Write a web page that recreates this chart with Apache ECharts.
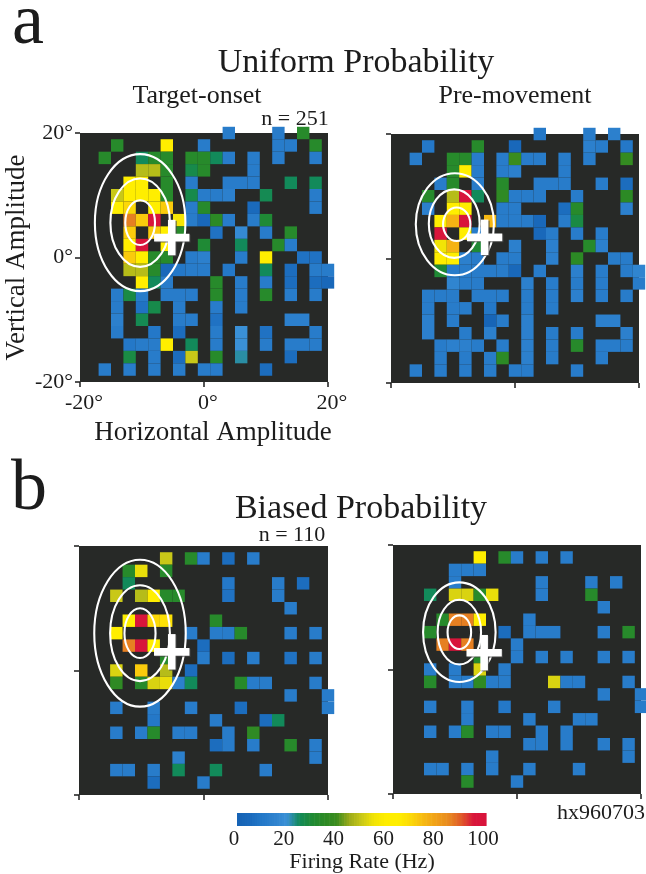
<!DOCTYPE html>
<html><head><meta charset="utf-8">
<style>html,body{margin:0;padding:0;background:#fff}#c{width:646px;height:874px}</style>
<script src="https://cdn.jsdelivr.net/npm/echarts@6/dist/echarts.min.js"></script>
</head><body><div id="c"></div>
<script>
// value key: dark blue 4, blue 12, teal 25, green 33, olive 48, yellow 60, amber 75, orange 86, red 97
const axisTicks = [-20, 0, 20];
const axisTickLabels = ['-20°', '0°', '20°'];
const colorTickLabels = [0, 20, 40, 60, 80, 100];
const rampColors = ['#1562b4','#1a6abc','#2478c8','#2e82ce','#3a90d6','#128a5a','#1f8a35','#2c8a25','#3a8c1e','#9aaa1a','#c9c818','#f2e406','#ffee00','#ffee00','#fcd808','#f6b812','#f0a018','#e88a20','#e05a28','#d8153a','#d8143c'];

const uniformOnset = [
[4,20,12],[12,20,12],[16,20,33],
[-14,18,33],[-6,18,60],[0,18,12],[12,18,12],[14,18,12],[18,18,33],
[-16,16,33],[-10,16,25],[-8,16,33],[-6,16,33],[-2,16,33],[0,16,33],[2,16,25],[4,16,12],[8,16,12],[12,16,12],[18,16,12],
[-10,14,48],[-8,14,48],[-6,14,33],[-2,14,27],[0,14,33],[8,14,12],
[-12,12,60],[-10,12,60],[-6,12,33],[-2,12,12],[4,12,12],[6,12,12],[8,12,12],[14,12,25],[18,12,25],
[-14,10,50],[-12,10,60],[-10,10,60],[-8,10,60],[-6,10,33],[-2,10,27],[0,10,12],[2,10,12],[4,10,14],[10,10,26],[18,10,12],
[-14,8,60],[-12,8,70],[-8,8,60],[-6,8,72],[-2,8,12],[0,8,33],[8,8,5],[18,8,12],
[-12,6,86],[-10,6,72],[-8,6,97],[-4,6,56],[-2,6,12],[0,6,4],[2,6,35],[4,6,12],[8,6,12],[10,6,30],
[-12,4,72],[-8,4,72],[-6,4,60],[-4,4,33],[2,4,8],[6,4,18],[10,4,12],[14,4,33],
[-12,2,60],[-10,2,97],[-6,2,60],[0,2,30],[6,2,25],[12,2,33],[14,2,12],
[-12,0,72],[-10,0,60],[-8,0,33],[-6,0,33],[-2,0,12],[0,0,14],[6,0,12],[10,0,60],[16,0,8],[18,0,8],
[-12,-2,48],[-10,-2,48],[-8,-2,33],[-6,-2,4],[-4,-2,10],[-2,-2,12],[0,-2,12],[4,-2,10],[10,-2,25],[14,-2,6],[18,-2,12],[20,-2,12],
[-10,-4,60],[-8,-4,25],[-6,-4,12],[2,-4,33],[6,-4,12],[10,-4,12],[14,-4,6],[18,-4,6],[20,-4,4],
[-14,-6,12],[-12,-6,28],[-10,-6,12],[-6,-6,12],[-4,-6,12],[-2,-6,12],[2,-6,33],[6,-6,12],[10,-6,33],[14,-6,12],[18,-6,12],
[-14,-8,12],[-10,-8,8],[-8,-8,27],[-4,-8,12],[2,-8,12],[6,-8,12],
[-14,-10,14],[-10,-10,26],[-4,-10,12],[-2,-10,12],[2,-10,8],[14,-10,14],[16,-10,14],
[-14,-12,12],[-8,-12,10],[-4,-12,6],[2,-12,12],[6,-12,20],[10,-12,8],[18,-12,12],
[-12,-14,10],[-10,-14,12],[-8,-14,12],[-6,-14,60],[-2,-14,25],[2,-14,12],[6,-14,20],[10,-14,12],[14,-14,12],[16,-14,12],[18,-14,12],
[-12,-16,28],[-8,-16,12],[-4,-16,6],[-2,-16,50],[2,-16,33],[6,-16,22],[14,-16,6],
[-16,-18,12],[-12,-18,12],[-8,-18,12],[-4,-18,12],[0,-18,12],[2,-18,12],[10,-18,6]
];
const uniformPre = [
[4,20,10],[12,20,12],[16,20,14],
[-14,18,10],[-6,18,33],[0,18,4],[12,18,14],[14,18,12],[18,18,10],
[-16,16,12],[-10,16,33],[-8,16,33],[-6,16,12],[-2,16,12],[0,16,40],[2,16,12],[4,16,12],[8,16,12],[12,16,12],[18,16,38],
[-10,14,33],[-8,14,60],[-6,14,12],[-2,14,12],[0,14,14],[8,14,12],
[-12,12,12],[-10,12,33],[-6,12,12],[-2,12,33],[4,12,12],[6,12,12],[8,12,12],[14,12,12],[18,12,6],
[-14,10,33],[-10,10,48],[-8,10,97],[-6,10,25],[-2,10,36],[0,10,12],[2,10,12],[4,10,12],[10,10,12],[18,10,35],
[-14,8,14],[-10,8,60],[-8,8,60],[-2,8,12],[0,8,12],[8,8,6],[10,8,33],[18,8,14],
[-12,6,60],[-10,6,76],[-8,6,97],[-4,6,75],[-2,6,12],[0,6,12],[2,6,12],[4,6,4],[8,6,12],[10,6,28],
[-12,4,97],[-8,4,60],[-6,4,12],[4,4,4],[6,4,12],[10,4,12],[14,4,12],
[-12,2,55],[-10,2,76],[-6,2,30],[0,2,14],[6,2,14],[12,2,33],[14,2,14],
[-12,0,60],[-10,0,60],[-8,0,14],[-6,0,12],[-2,0,12],[0,0,12],[6,0,14],[10,0,35],[16,0,12],[18,0,12],
[-12,-2,30],[-10,-2,12],[-8,-2,12],[-6,-2,12],[-4,-2,12],[-2,-2,12],[0,-2,4],[4,-2,12],[10,-2,14],[14,-2,12],[18,-2,12],[20,-2,16],
[-10,-4,16],[-8,-4,12],[-6,-4,12],[2,-4,14],[6,-4,12],[10,-4,12],[14,-4,12],[20,-4,12],
[-14,-6,12],[-12,-6,12],[-10,-6,12],[-6,-6,12],[-4,-6,12],[-2,-6,12],[2,-6,12],[6,-6,12],[10,-6,14],[14,-6,12],[18,-6,12],
[-14,-8,12],[-10,-8,12],[-8,-8,12],[-4,-8,10],[2,-8,12],[6,-8,12],
[-14,-10,14],[-10,-10,12],[-4,-10,2],[-2,-10,12],[2,-10,14],[14,-10,14],[16,-10,14],
[-14,-12,14],[-8,-12,12],[-4,-12,14],[2,-12,14],[6,-12,12],[10,-12,12],[18,-12,14],
[-12,-14,12],[-10,-14,14],[-8,-14,14],[-6,-14,12],[-2,-14,12],[2,-14,14],[6,-14,12],[10,-14,33],[14,-14,12],[16,-14,12],[18,-14,12],
[-12,-16,12],[-8,-16,12],[-4,-16,12],[-2,-16,35],[2,-16,14],[6,-16,12],[14,-16,12],
[-16,-18,12],[-12,-18,12],[-8,-18,12],[-4,-18,12],[0,-18,12],[2,-18,12],[10,-18,12]
];
const biasedOnset = [
[-6,18,50],[-2,18,33],[0,18,12],[4,18,6],[8,18,12],
[-12,16,33],[-10,16,54],[-6,16,33],
[-12,14,25],[4,14,10],[12,14,12],[16,14,6],
[-14,12,50],[-10,12,48],[-8,12,60],[-6,12,33],[-4,12,33],[4,12,8],[12,12,12],
[14,10,12],
[-12,8,62],[-10,8,97],[-8,8,70],[-6,8,68],[2,8,33],
[-14,6,60],[-2,6,12],[2,6,12],[4,6,12],[6,6,33],[14,6,12],[18,6,12],
[-12,4,86],[-10,4,97],[-8,4,62],[0,4,6],
[-6,2,33],[0,2,12],[4,2,6],[8,2,12],[14,2,8],[18,2,12],
[-14,0,52],[-10,0,72],[-6,0,48],[-2,0,6],
[-14,-2,36],[-10,-2,33],[-8,-2,52],[-6,-2,54],[-4,-2,14],[-2,-2,25],[6,-2,33],[8,-2,12],[10,-2,12],[18,-2,12],
[14,-4,12],[20,-4,12],
[-14,-6,12],[-8,-6,12],[-2,-6,12],[6,-6,6],[20,-6,12],
[-8,-8,10],[2,-8,12],[10,-8,6],[12,-8,25],
[-14,-10,12],[-10,-10,12],[-8,-10,33],[-4,-10,12],[-2,-10,12],[4,-10,12],[8,-10,36],
[2,-12,6],[4,-12,12],[8,-12,12],[14,-12,33],[18,-12,12],
[-4,-14,14],[18,-14,12],
[-14,-16,12],[-12,-16,12],[-8,-16,12],[-4,-16,25],[2,-16,25],[10,-16,12],
[-8,-18,6],[0,-18,12]
];
const biasedPre = [
[-6,18,60],[-2,18,33],[0,18,12],[4,18,12],[8,18,12],
[-10,16,12],[-8,16,12],[-6,16,12],
[-10,14,12],[4,14,12],[12,14,12],[16,14,12],
[-14,12,25],[-10,12,52],[-8,12,52],[-6,12,33],[-4,12,54],[4,12,12],[12,12,33],
[14,10,12],
[-12,8,33],[-10,8,86],[-8,8,86],[-6,8,62],[2,8,12],
[-14,6,33],[-2,6,6],[2,6,12],[4,6,12],[6,6,12],[14,6,12],[18,6,33],
[-12,4,86],[-10,4,97],[-8,4,86],[0,4,12],
[-6,2,33],[0,2,12],[4,2,12],[8,2,12],[14,2,12],[18,2,12],
[-14,0,12],[-10,0,12],[-6,0,52],[-2,0,12],
[-14,-2,33],[-10,-2,12],[-8,-2,12],[-6,-2,36],[-4,-2,12],[-2,-2,12],[6,-2,52],[8,-2,12],[10,-2,12],[18,-2,12],
[14,-4,12],[20,-4,12],
[-14,-6,12],[-8,-6,12],[-2,-6,10],[6,-6,12],[20,-6,12],
[-8,-8,12],[2,-8,12],[10,-8,12],[12,-8,12],
[-14,-10,12],[-10,-10,12],[-8,-10,33],[-4,-10,12],[-2,-10,12],[4,-10,12],[8,-10,12],
[2,-12,12],[4,-12,12],[8,-12,12],[14,-12,12],[18,-12,12],
[-4,-14,12],[18,-14,12],
[-14,-16,12],[-12,-16,12],[-8,-16,12],[-4,-16,12],[2,-16,12],[10,-16,12],
[-8,-18,33],[0,-18,12]
];
// contours: [cx, cy, rx, ry] in degrees
const uniformOnsetContours = [[-10.3,5.6,7.3,11],[-10.3,5.6,4.8,7.1],[-10.3,5.6,2.4,3.6]];
const uniformPreContours = [[-9.7,5.5,6.3,8.2],[-9.8,5.6,4.1,5.5],[-9.4,5.5,2.2,2.7]];
const biasedOnsetContours = [[-10.2,6,7.35,11.8],[-10.2,6,4.8,7.7],[-10.2,6,2.5,4]];
const biasedPreContours = [[-9.3,6,5.85,8],[-9.3,6,3.5,5.2],[-9.3,6,1.9,2.7]];
const fixations = [[-5.2,3.2],[-4.9,3.4],[-5.1,3],[-5.3,2.7]];

const panels = [uniformOnset, uniformPre, biasedOnset, biasedPre];
const contours = [uniformOnsetContours, uniformPreContours, biasedOnsetContours, biasedPreContours];
const grids = [
 {left:80,top:133,width:248,height:249},
 {left:391,top:134,width:248,height:249},
 {left:79,top:546,width:249,height:249},
 {left:393,top:545,width:248,height:249}
];
const serif = '"Liberation Serif"';
const ink = '#1c1c1c';

const rampValues = [];
for (let v = 0; v <= 99; v++) rampValues.push([v + 0.5, 0.5, v + 0.5]);

const xAxes = [], yAxes = [], series = [];
grids.forEach((g, i) => {
  const first = i === 0;
  xAxes.push({
    type:'value', gridIndex:i, min:-20, max:20, interval:20,
    axisLine:{show:false,onZero:false}, splitLine:{show:false},
    axisTick:{length:5, lineStyle:{color:ink,width:1.5}},
    axisLabel:{show:first, color:ink, fontFamily:serif, fontSize:22, margin:10, padding:[0,0,0,8],
      formatter:v=>axisTickLabels[axisTicks.indexOf(v)]},
    name:first?'Horizontal Amplitude':'', nameLocation:'middle', nameGap:37,
    nameTextStyle:{color:ink,fontFamily:serif,fontSize:27,padding:[0,0,0,18]}
  });
  yAxes.push({
    type:'value', gridIndex:i, min:-20, max:20, interval:20,
    axisLine:{show:false,onZero:false}, splitLine:{show:false},
    axisTick:{length:5, lineStyle:{color:ink,width:1.5}},
    axisLabel:{show:first, color:ink, fontFamily:serif, fontSize:22, margin:7,
      formatter:v=>axisTickLabels[axisTicks.indexOf(v)]},
    name:first?'Vertical Amplitude':'', nameLocation:'middle', nameGap:50, nameRotate:90,
    nameTextStyle:{color:ink,fontFamily:serif,fontSize:27}
  });
  series.push({
    type:'custom', xAxisIndex:i, yAxisIndex:i, data:panels[i], encode:{x:0,y:1},
    renderItem(params, api){
      const p = api.coord([api.value(0), api.value(1)]);
      const s = api.size([2,2]);
      return {type:'rect', shape:{x:p[0]-s[0]/2,y:p[1]-s[1]/2,width:s[0],height:s[1]},
        style:{fill:api.visual('color')}};
    }
  });
});
// colour bar grid
grids.push({left:237,top:813,width:249,height:13});
xAxes.push({type:'value',gridIndex:4,min:0,max:100,interval:20,
  axisLine:{show:false,onZero:false},axisTick:{show:false},splitLine:{show:false},
  axisLabel:{color:ink,fontFamily:serif,fontSize:21,margin:3,padding:[0,6,0,0],
    formatter:v=>String(colorTickLabels[v/20])}});
yAxes.push({type:'value',gridIndex:4,min:0,max:1,show:false});
series.push({type:'custom',xAxisIndex:4,yAxisIndex:4,data:rampValues,encode:{x:0,y:1},
  renderItem(params,api){
    const p = api.coord([api.value(0),api.value(1)]);
    const s = api.size([1,1]);
    return {type:'rect',shape:{x:p[0]-s[0]/2,y:p[1]-s[1]/2,width:s[0]+0.6,height:s[1]},
      style:{fill:api.visual('color')}};
  }});
// contours and fixation crosses, drawn over the cells
contours.forEach((list,i)=>{
  series.push({type:'custom',xAxisIndex:i,yAxisIndex:i,data:list,encode:{x:0,y:1},z:5,silent:true,
    renderItem(params,api){
      const p = api.coord([api.value(0),api.value(1)]);
      const s = api.size([api.value(2),api.value(3)]);
      return {type:'ellipse',shape:{cx:p[0],cy:p[1],rx:s[0],ry:s[1]},
        style:{fill:'none',stroke:'#fff',lineWidth:2.1}};
    }});
  series.push({type:'custom',xAxisIndex:i,yAxisIndex:i,data:[fixations[i]],encode:{x:0,y:1},z:6,silent:true,
    renderItem(params,api){
      const p = api.coord([api.value(0),api.value(1)]);
      const arm = api.size([2.85,2.85]);
      const t = 3.8;
      const sx = 1.2, sy = 1;
      const shade = {fill:'rgba(70,70,70,.75)'}, white = {fill:'#fff'};
      const bars = (dx,dy,st)=>[
        {type:'rect',shape:{x:p[0]-arm[0]+dx,y:p[1]-t+dy,width:arm[0]*2,height:t*2},style:st},
        {type:'rect',shape:{x:p[0]-t+dx,y:p[1]-arm[1]+dy,width:t*2,height:arm[1]*2},style:st}
      ];
      return {type:'group',children:bars(sx,sy,shade).concat(bars(0,0,white))};
    }});
});

const text = (t,x,y,size,align)=>({text:t,left:x,top:y,padding:0,textAlign:align||'center',textVerticalAlign:'middle',
  textStyle:{color:ink,fontFamily:serif,fontWeight:'normal',fontSize:size}});

const chart = echarts.init(document.getElementById('c'));
chart.setOption({
  animation:false, backgroundColor:'#fff',
  title:[
    text('a',12,24,72,'left'),
    text('Uniform Probability',356,63,34),
    text('Target-onset',197,96,26),
    text('Pre-movement',515,96,26),
    text('n = 251',295,119,22),
    text('b',11,490,72,'left'),
    text('Biased Probability',361,509,34),
    text('n = 110',292,535,22),
    text('hx960703',601,813,22),
    text('Firing Rate (Hz)',362,862,22)
  ],
  grid:grids.map(g=>Object.assign({show:true,backgroundColor:g.height>20?'#272927':'transparent',borderWidth:0},g)),
  xAxis:xAxes, yAxis:yAxes,
  visualMap:{show:false,type:'continuous',min:0,max:100,dimension:2,seriesIndex:[0,1,2,3,4],inRange:{color:rampColors}},
  series
});
</script></body></html>
